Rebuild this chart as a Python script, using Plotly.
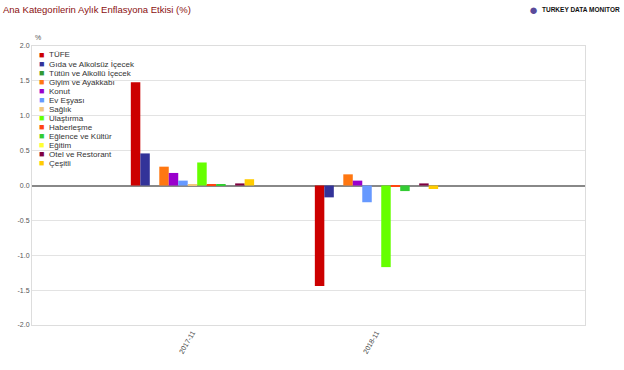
import plotly.graph_objects as go

categories = ["2017-11", "2018-11"]
series_names = ["TÜFE", "Gıda ve Alkolsüz İçecek", "Tütün ve Alkollü İçecek", "Giyim ve Ayakkabı",
                "Konut", "Ev Eşyası", "Sağlık", "Ulaştırma", "Haberleşme", "Eğlence ve Kültür",
                "Eğitim", "Otel ve Restorant", "Çeşitli"]
values_2017_11 = [1.48, 0.46, 0.00, 0.27, 0.18, 0.07, 0.01, 0.33, 0.01, 0.01, 0.00, 0.03, 0.09]
values_2018_11 = [-1.44, -0.17, 0.00, 0.16, 0.07, -0.24, 0.00, -1.17, -0.01, -0.08, 0.00, 0.03, -0.05]
colors = ["#cc0000", "#333399", "#339933", "#ff7711", "#9900cc", "#6699ff", "#f2c77f",
          "#66ff00", "#ff4411", "#33cc33", "#ffff33", "#800040", "#ffcc00"]
y_ticks = [2.0, 1.5, 1.0, 0.5, 0.0, -0.5, -1.0, -1.5, -2.0]

W, H = 624, 370
ML, MR, MT, MB = 32, 39, 46, 45
PW, PH = W - ML - MR, H - MT - MB

fig = go.Figure()
for i, name in enumerate(series_names):
    fig.add_trace(go.Bar(x=categories, y=[values_2017_11[i], values_2018_11[i]], name=name,
                         marker=dict(color=colors[i], line=dict(width=0)), showlegend=False))

def px_x(p):
    return (p - ML) / PW

def px_y(p):
    return (H - MB - p) / PH

annotations = []
for i, name in enumerate(series_names):
    yc = 55 + i * 9.03
    annotations.append(dict(x=px_x(37), y=px_y(yc), xref="paper", yref="paper", xanchor="left",
                            yanchor="middle", showarrow=False,
                            text=f"<span style='color:{colors[i]}'>■</span>",
                            font=dict(size=9, family="Liberation Sans, Arial")))
    annotations.append(dict(x=px_x(47), y=px_y(yc), xref="paper", yref="paper", xanchor="left",
                            yanchor="middle", showarrow=False, text=name,
                            font=dict(size=8, color="#333333", family="Liberation Sans, Arial")))

annotations.append(dict(x=px_x(1), y=px_y(10), xref="paper", yref="paper", xanchor="left",
                        yanchor="middle", showarrow=False,
                        text="Ana Kategorilerin Aylık Enflasyona Etkisi (%)",
                        font=dict(size=9.5, color="#8b1010", family="Liberation Sans, Arial")))
annotations.append(dict(x=px_x(527), y=px_y(10), xref="paper", yref="paper", xanchor="left",
                        yanchor="middle", showarrow=False,
                        text="<span style='color:#5a4a9a'>●</span>",
                        font=dict(size=15, family="Liberation Sans, Arial")))
annotations.append(dict(x=px_x(540), y=px_y(10), xref="paper", yref="paper", xanchor="left",
                        yanchor="middle", showarrow=False,
                        text="<b>TURKEY DATA MONITOR</b>",
                        font=dict(size=6.5, color="#111111", family="Liberation Sans, Arial")))
annotations.append(dict(x=px_x(33), y=px_y(38), xref="paper", yref="paper", xanchor="left",
                        yanchor="middle", showarrow=False, text="%",
                        font=dict(size=7, color="#555555", family="Liberation Sans, Arial")))

fig.update_layout(
    width=W, height=H,
    margin=dict(l=ML, r=MR, t=MT, b=MB),
    paper_bgcolor="white", plot_bgcolor="white",
    barmode="group", bargap=0.33, bargroupgap=0,
    font=dict(family="Liberation Sans, Arial", size=8, color="#444444"),
    annotations=annotations,
    xaxis=dict(type="category", range=[-0.872, 2.133], tickangle=-60, showgrid=False,
               showline=True, linecolor="#dddddd", mirror=True, ticks="",
               tickfont=dict(size=7, color="#444444")),
    yaxis=dict(range=[-2.0, 2.0], tickvals=y_ticks, ticktext=[f"{v:.1f}" for v in y_ticks],
               showgrid=True, gridcolor="#e3e3e3", gridwidth=1,
               zeroline=True, zerolinecolor="#888888", zerolinewidth=2,
               showline=True, linecolor="#dddddd", mirror=True,
               tickfont=dict(size=7, color="#555555"), ticks="", ticklen=0),
)

fig.write_html("out.html", config={"displayModeBar": False},
               post_script="document.body.style.margin='0';")
